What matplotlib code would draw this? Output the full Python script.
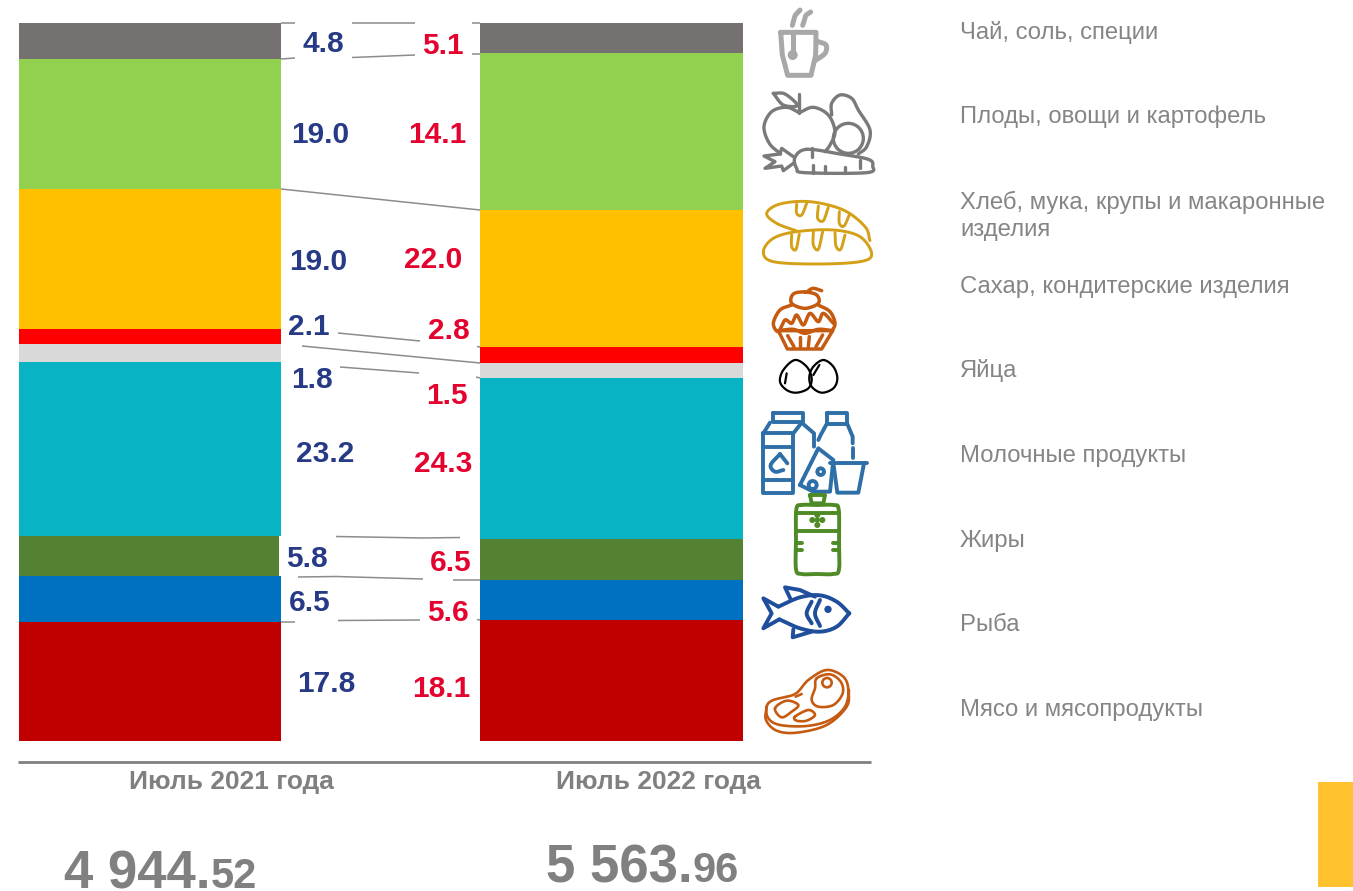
import numpy as np
import matplotlib
matplotlib.use("Agg")
import matplotlib.pyplot as plt
from matplotlib.patches import Circle, Rectangle

plt.rcParams['font.family'] = ['Liberation Sans', 'DejaVu Sans']

periods = ["Июль 2021 года", "Июль 2022 года"]
categories = ["Мясо и мясопродукты", "Рыба", "Жиры", "Молочные продукты", "Яйца",
              "Сахар, кондитерские изделия", "Хлеб, мука, крупы и макаронные",
              "Плоды, овощи и картофель", "Чай, соль, специи"]
# segment heights as drawn in the picture (share of the column, %)
drawn_2021 = [16.6, 6.4, 5.6, 24.2, 2.5, 2.1, 19.5, 18.1, 5.0]
drawn_2022 = [16.85, 5.55, 5.7, 22.45, 2.1, 2.2, 19.1, 21.85, 4.2]
# printed labels
labels_2021 = ["17.8", "6.5", "5.8", "23.2", "1.8", "2.1", "19.0", "19.0", "4.8"]
labels_2022 = ["18.1", "5.6", "6.5", "24.3", "1.5", "2.8", "22.0", "14.1", "5.1"]
totals_int = ["4 944.", "5 563."]
totals_dec = ["52", "96"]
colors = ["#C00000", "#0070C0", "#548235", "#08B4C4", "#D9D9D9", "#FF0000", "#FFC000", "#92D050", "#767171"]

W, H = 1353, 891
fig = plt.figure(figsize=(W / 100, H / 100), dpi=100)

# bars
ax = fig.add_axes([19 / W, 1 - 741 / H, 724 / W, 718 / H])
bw = 262.5 / 461.5
bottoms = [0.0, 0.0]
for i in range(len(categories)):
    vals = [drawn_2021[i], drawn_2022[i]]
    ax.bar([0, 1], vals, bw, bottom=bottoms, color=colors[i], linewidth=0)
    bottoms = [bottoms[0] + vals[0], bottoms[1] + vals[1]]
ax.set_xlim(-bw / 2, 1 + bw / 2)
ax.set_ylim(0, 100)
ax.axis("off")

# overlay in pixel coordinates for annotation and icons
ov = fig.add_axes([0, 0, 1, 1], facecolor="none")
ov.set_xlim(0, W)
ov.set_ylim(H, 0)
ov.axis("off")
ov.add_patch(Rectangle((279, 536), 3, 40, color="white", lw=0))

conn = [[(281, 23), (295, 23)], [(352, 23), (415, 23)], [(472, 23), (480, 23)],
        [(281, 59), (295, 58)], [(352, 57.5), (415, 55)], [(472, 53.5), (480, 53.5)],
        [(281, 189), (480, 210)],
        [(338, 333), (420, 341)], [(477, 346.5), (480, 347)],
        [(302, 346), (480, 363)],
        [(340, 367), (419, 373)], [(476, 377), (480, 378)],
        [(336, 536.5), (423, 538), (460, 537.5)],
        [(298, 577), (336, 576.5), (423, 579)], [(453, 580), (480, 580)],
        [(338, 620.5), (420, 620)], [(477, 619.5), (480, 620)], [(281, 622), (295, 622)]]
for c in conn:
    xs, ys = zip(*c)
    ov.plot(xs, ys, color="#8c8c8c", lw=1.1, solid_capstyle="butt")

left_pos = [(326, 684), (310, 603), (307, 559), (325, 454), (312, 380), (309, 327), (318, 262), (320, 135), (323, 44)]
right_pos = [(441, 689), (448, 613), (451, 563), (443, 464), (447, 396), (449, 331), (433, 260), (437, 135), (443, 46)]
for s, (x, y) in zip(labels_2021, left_pos):
    ov.text(x, y, s, color="#263A85", fontsize=21.5, fontweight="bold", ha="center", va="center")
for s, (x, y) in zip(labels_2022, right_pos):
    ov.text(x, y, s, color="#E4032E", fontsize=21.5, fontweight="bold", ha="center", va="center")

legend_y = [710, 625, 541, 456, 371, 287, 202, 117, 33]
for s, y in zip(categories, legend_y):
    ov.text(960, y, s, color="#858585", fontsize=17.2, ha="left", va="center")
ov.text(960, 230, "изделия", color="#858585", fontsize=17.2, ha="left", va="center")

ov.plot([18, 871], [762, 762], color="#7f7f7f", lw=2, solid_capstyle="butt")
for s, x in zip(periods, [231, 658]):
    ov.text(x, 782, s, color="#808080", fontsize=19, fontweight="bold", ha="center", va="center")
for a, b, xm, y in zip(totals_int, totals_dec, [211, 693], [888.5, 882.5]):
    ov.text(xm, y, a, color="#808080", fontsize=38, fontweight="bold", ha="right", va="baseline")
    ov.text(xm, y, b, color="#808080", fontsize=30, fontweight="bold", ha="left", va="baseline")
ov.add_patch(Rectangle((1318, 782), 35, 105, color="#FFC12D", lw=0))


def smooth(pts, closed=False, n=12):
    p = np.array(pts, float)
    if closed:
        p = np.vstack([p[-1], p, p[0], p[1]])
    else:
        p = np.vstack([2 * p[0] - p[1], p, 2 * p[-1] - p[-2]])
    out = []
    for i in range(1, len(p) - 2):
        for t in np.linspace(0, 1, n, endpoint=False):
            out.append(0.5 * (2 * p[i] + (p[i + 1] - p[i - 1]) * t
                              + (2 * p[i - 1] - 5 * p[i] + 4 * p[i + 1] - p[i + 2]) * t ** 2
                              + (3 * p[i] - p[i - 1] - 3 * p[i + 1] + p[i + 2]) * t ** 3))
    out.append(p[-2])
    return np.array(out)


def icon(origin, color, lw, curves=(), closed=(), lines=(), polys=(), circles=(), dots=()):
    ox, oy = origin
    tr = lambda a: (ox + np.asarray(a, float)[:, 0] / 3, oy + np.asarray(a, float)[:, 1] / 3)
    kw = dict(color=color, lw=lw, solid_capstyle="round", solid_joinstyle="round")
    for c in curves:
        ov.plot(*tr(smooth(c)), **kw)
    for c in closed:
        ov.plot(*tr(smooth(c, True)), **kw)
    for c in lines:
        ov.plot(*tr(c), **kw)
    for c in polys:
        ov.plot(*tr(c + [c[0]]), **kw)
    for (x, y, r) in circles:
        ov.add_patch(Circle((ox + x / 3, oy + y / 3), r / 3, fc="none", ec=color, lw=lw))
    for (x, y, r) in dots:
        ov.add_patch(Circle((ox + x / 3, oy + y / 3), r / 3, fc=color, ec="none"))


# cup
icon((750, 0), "#a8a8a8", 3.6,
     curves=[[(205, 125), (228, 135), (225, 160), (195, 182)],
             [(127, 76), (132, 58), (136, 46), (150, 30)], [(158, 76), (164, 58), (168, 46), (182, 36)]],
     polys=[[(92, 97), (198, 97), (197, 165), (183, 226), (113, 226), (97, 165)]],
     lines=[[(128, 97), (128, 155)]], dots=[(128, 165, 15)])
# fruit
icon((750, 0), "#7a7a7a", 2.4,
     curves=[[(148, 338), (110, 322), (65, 335), (42, 380), (58, 430), (92, 462)],
             [(148, 338), (190, 322), (235, 345), (255, 395), (240, 435), (225, 455)],
             [(245, 345), (245, 310), (270, 285), (305, 295), (325, 330), (360, 390), (350, 440), (325, 462)],
             [(70, 280), (105, 282), (142, 316), (100, 315), (70, 280)]],
     closed=[[(170, 448), (270, 462), (355, 478), (368, 498), (350, 518), (165, 518), (140, 505), (135, 472)]],
     lines=[[(148, 282), (148, 338)],
            [(130, 470), (95, 445), (90, 462), (42, 468), (75, 485), (45, 505), (95, 498), (100, 512), (130, 490)],
            [(190, 518), (190, 495)], [(225, 518), (225, 498)], [(285, 518), (285, 500)],
            [(330, 505), (330, 480)], [(185, 470), (185, 445)]],
     circles=[(295, 415, 45)])
# bread
icon((750, 0), "#D4A017", 2.1,
     curves=[[(140, 693), (80, 670), (50, 640), (90, 612), (180, 605), (280, 630), (345, 680), (360, 722)],
             [(140, 612), (140, 640), (155, 645), (170, 610)], [(205, 618), (203, 655), (220, 662), (235, 622)],
             [(268, 635), (268, 670), (282, 678), (298, 645)],
             [(125, 705), (125, 740), (138, 748), (148, 702)], [(190, 695), (190, 735), (205, 748), (218, 695)],
             [(255, 698), (258, 738), (272, 748), (285, 705)]],
     closed=[[(40, 755), (70, 715), (140, 695), (250, 690), (330, 710), (365, 762), (330, 785), (200, 792), (70, 785)]])
# cupcake
icon((750, 270), "#C55A11", 2.5,
     curves=[[(125, 105), (90, 120), (70, 160), (85, 185), (105, 150), (125, 160), (140, 135), (160, 165), (180, 130),
              (205, 155), (220, 130), (250, 160)],
             [(205, 105), (240, 125), (255, 160), (245, 185)], [(175, 62), (190, 55), (215, 62)],
             [(85, 182), (130, 178), (165, 190), (205, 178), (248, 182)]],
     polys=[[(85, 182), (112, 237), (215, 237), (248, 182)]],
     lines=[[(113, 197), (132, 230)], [(150, 200), (150, 230)], [(178, 200), (175, 230)], [(218, 195), (198, 230)]],
     closed=[[(165, 66), (200, 75), (205, 100), (165, 115), (125, 100), (130, 72)]])
# eggs
icon((750, 270), "#000000", 1.6,
     closed=[[(135, 270), (100, 300), (90, 335), (110, 360), (140, 368), (175, 355), (185, 325), (170, 290)],
             [(220, 270), (190, 290), (178, 320), (185, 350), (215, 368), (250, 355), (262, 325), (250, 290)]],
     lines=[[(110, 310), (105, 340)], [(208, 285), (190, 315)]])
# dairy
icon((750, 270), "#2E6FA8", 2.8,
     polys=[[(40, 490), (130, 490), (130, 668), (40, 668)], [(70, 428), (160, 428), (160, 455), (70, 455)]],
     lines=[[(40, 530), (130, 530)], [(40, 630), (130, 630)], [(130, 490), (155, 458), (192, 490), (192, 530)],
            [(60, 458), (40, 490)], [(240, 580), (350, 580)], [(250, 580), (262, 668), (325, 668), (342, 580)],
            [(230, 428), (292, 428), (292, 462), (230, 462), (230, 428)],
            [(230, 462), (212, 495), (205, 510)], [(292, 462), (308, 500), (308, 520)], [(308, 535), (308, 565)],
            [(150, 645), (205, 535), (250, 570), (240, 665), (190, 665), (150, 645)]],
     curves=[[(90, 552), (62, 585), (75, 605), (100, 600)], [(90, 552), (112, 580)]],
     circles=[(212, 605, 10), (188, 645, 12)])
# oil bottle
icon((750, 490), "#4E8A26", 2.8,
     polys=[[(180, 15), (225, 15), (220, 40), (185, 40)]],
     closed=[[(155, 45), (200, 45), (250, 45), (266, 58), (267, 150), (267, 238), (250, 252), (200, 252), (155, 252),
              (138, 238), (138, 150), (139, 58)]],
     lines=[[(138, 68), (267, 68)], [(138, 122), (267, 122)], [(140, 160), (155, 160)], [(140, 180), (155, 180)],
            [(250, 160), (265, 160)], [(250, 180), (265, 180)]],
     dots=[(202, 75, 9), (202, 105, 9), (187, 90, 9), (217, 90, 9), (202, 90, 8)])
# fish
icon((750, 490), "#1F4E9C", 2.8,
     curves=[[(85, 350), (150, 322), (210, 316), (260, 335), (298, 370)],
             [(298, 370), (260, 410), (210, 425), (150, 415), (88, 388)],
             [(185, 335), (170, 370), (185, 400)], [(210, 330), (195, 370), (210, 408)]],
     lines=[[(85, 350), (40, 325), (65, 370), (40, 415), (88, 388)],
            [(122, 328), (105, 292), (150, 300), (195, 320)], [(130, 418), (128, 442), (185, 425)]],
     dots=[(234, 358, 11)])
# steak
icon((750, 490), "#C55A11", 1.9,
     closed=[[(50, 650), (70, 630), (135, 612), (175, 570), (230, 540), (280, 560), (295, 600), (285, 650), (240, 690),
              (170, 708), (90, 705), (55, 685)],
             [(200, 565), (240, 553), (272, 575), (278, 610), (250, 645), (205, 650), (185, 630), (195, 595)],
             [(75, 655), (110, 632), (145, 645), (125, 665), (95, 682)],
             [(135, 680), (175, 660), (195, 675), (170, 692), (140, 692)]],
     curves=[[(50, 650), (48, 690), (80, 722), (140, 728), (230, 705), (290, 650), (297, 600)]],
     circles=[(231, 578, 14)],
     lines=[[(137, 620), (155, 612)]])

fig.savefig("out.png", dpi=100)
